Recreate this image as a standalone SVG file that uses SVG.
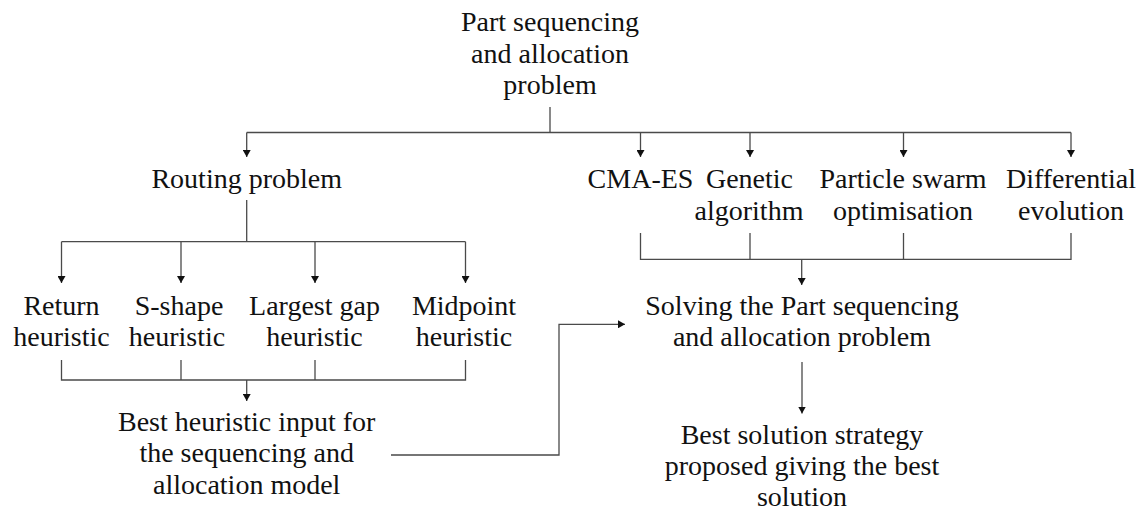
<svg xmlns="http://www.w3.org/2000/svg" width="1142" height="513" viewBox="0 0 1142 513">
  <defs>
    <marker id="arrow" viewBox="0 0 7 8" markerWidth="7" markerHeight="8" refX="7" refY="4" orient="auto" markerUnits="userSpaceOnUse">
      <path d="M0,0 L7,4 L0,8 z" fill="#111"/>
    </marker>
    <style>
      text { font-family: "Liberation Serif", "Times New Roman", serif; font-size: 28px; fill: #111; text-anchor: middle; }
      .wire { fill: none; stroke: #4a4a4a; stroke-width: 1.3; }
      .arr { marker-end: url(#arrow); }
    </style>
  </defs>
  <rect width="1142" height="513" fill="#fff"/>

  <!-- connectors -->
  <g id="connectors">
    <!-- root to the two branches -->
    <path class="wire" d="M550,107 V132.5"/>
    <path class="wire" d="M246.7,132.5 H1071"/>
    <path class="wire arr" d="M246.7,132.5 V157"/>
    <path class="wire arr" d="M640.5,132.5 V157"/>
    <path class="wire arr" d="M750,132.5 V157"/>
    <path class="wire arr" d="M903.5,132.5 V157"/>
    <path class="wire arr" d="M1071,132.5 V157"/>

    <!-- routing problem to heuristics -->
    <path class="wire" d="M246.7,200 V241.7"/>
    <path class="wire" d="M61.5,241.7 H465.5"/>
    <path class="wire arr" d="M61.5,241.7 V283"/>
    <path class="wire arr" d="M181,241.7 V283"/>
    <path class="wire arr" d="M315,241.7 V283"/>
    <path class="wire arr" d="M465.5,241.7 V283"/>

    <!-- heuristics merge into best heuristic -->
    <path class="wire" d="M61.5,360 V380 H465.5 V360"/>
    <path class="wire" d="M181,360 V380"/>
    <path class="wire" d="M315,360 V380"/>
    <path class="wire arr" d="M246.7,380 V401"/>

    <!-- best heuristic feeds the solver -->
    <path class="wire arr" d="M391,455 H559 V324.3 H625"/>

    <!-- algorithms merge into the solver -->
    <path class="wire" d="M640.5,233 V259.3 H1071 V233"/>
    <path class="wire" d="M750,233 V259.3"/>
    <path class="wire" d="M903.5,233 V259.3"/>
    <path class="wire arr" d="M801.7,259.3 V285"/>

    <!-- solver to best solution -->
    <path class="wire arr" d="M802,362 V413.5"/>
  </g>

  <g id="root">
    <text x="550" y="31">Part sequencing</text>
    <text x="550" y="63">and allocation</text>
    <text x="550" y="94">problem</text>
  </g>

  <g id="routing">
    <text x="246.7" y="188">Routing problem</text>
  </g>

  <g id="return">
    <text x="61.5" y="315">Return</text>
    <text x="61.5" y="346">heuristic</text>
  </g>
  <g id="sshape">
    <text x="179" y="315">S-shape</text>
    <text x="177" y="346">heuristic</text>
  </g>
  <g id="largestgap">
    <text x="314.5" y="315">Largest gap</text>
    <text x="314.5" y="346">heuristic</text>
  </g>
  <g id="midpoint">
    <text x="464" y="315">Midpoint</text>
    <text x="464" y="346">heuristic</text>
  </g>

  <g id="bestheuristic">
    <text x="246.7" y="431">Best heuristic input for</text>
    <text x="246.7" y="462">the sequencing and</text>
    <text x="246.7" y="494">allocation model</text>
  </g>

  <g id="cmaes">
    <text x="640.5" y="188">CMA-ES</text>
  </g>
  <g id="genetic">
    <text x="749.5" y="188">Genetic</text>
    <text x="749" y="220">algorithm</text>
  </g>
  <g id="pso">
    <text x="903" y="188">Particle swarm</text>
    <text x="903" y="220">optimisation</text>
  </g>
  <g id="de">
    <text x="1071" y="188">Differential</text>
    <text x="1071" y="220">evolution</text>
  </g>

  <g id="solving">
    <text x="802" y="315">Solving the Part sequencing</text>
    <text x="802" y="346">and allocation problem</text>
  </g>

  <g id="bestsolution">
    <text x="802" y="444">Best solution strategy</text>
    <text x="802" y="475">proposed giving the best</text>
    <text x="802" y="506">solution</text>
  </g>
</svg>
